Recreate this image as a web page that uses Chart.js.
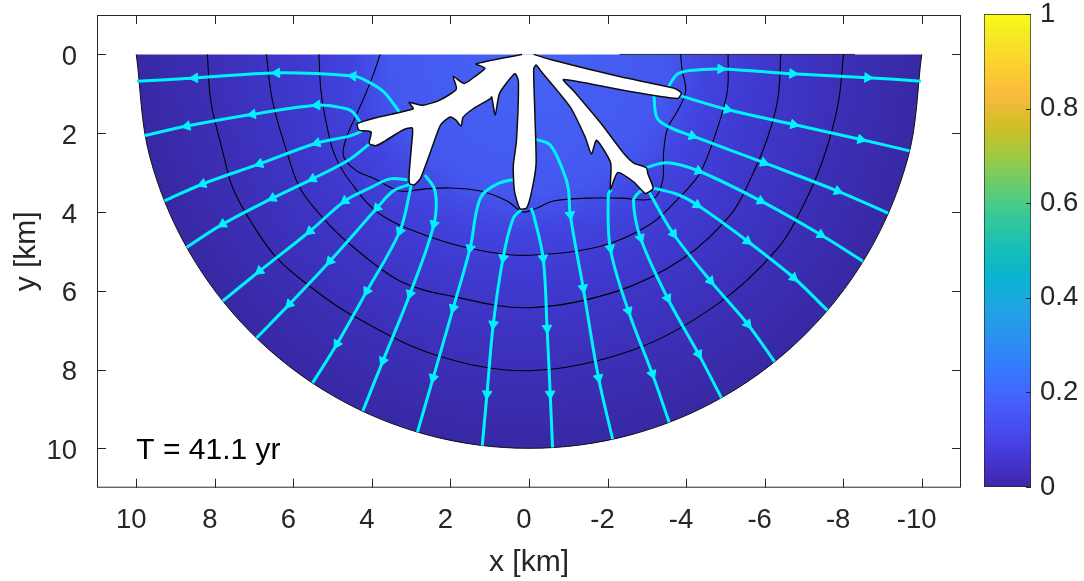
<!DOCTYPE html>
<html><head><meta charset="utf-8">
<script src="https://cdn.jsdelivr.net/npm/chart.js@4.4.1/dist/chart.umd.min.js"></script>
<style>
html,body{margin:0;padding:0;background:#fff;width:1084px;height:581px;overflow:hidden}
#main{position:absolute;left:0;top:0;width:1084px;height:581px}
#cbar{position:absolute;left:960px;top:0;width:124px;height:581px}
</style></head><body>
<div id="main"><canvas id="c1"></canvas></div>
<div id="cbar"><canvas id="c2"></canvas></div>
<script>
// ---------- data (km) ----------
const xTicks = [-10,-8,-6,-4,-2,0,2,4,6,8,10];
const yTicks = [0,2,4,6,8,10];
const cbTicks = [0,0.2,0.4,0.6,0.8,1];
const cbRange = [0,1];
const timeLabel = 'T = 41.1 yr';
const timeLabelAt = [10, 10.05];

const domainEdge = [[10,0],[9.659,2.588],[8.660,5.000],[7.071,7.071],[5.000,8.660],[2.588,9.659],[0,10],[-2.588,9.659],[-5.000,8.660],[-7.071,7.071],[-8.660,5.000],[-9.659,2.588],[-10,0]];
const topEdgeDark = [[-2.3,0],[-8.3,0]];

const contour1 = [[8.19,0.00],[8.10,1.20],[7.80,2.46],[7.54,3.40],[7.05,4.30],[6.42,5.17],[5.50,5.95],[4.56,6.59],[2.44,7.61],[0.00,8.03],[-2.66,7.50],[-4.80,6.34],[-6.34,4.92],[-7.00,3.80],[-7.50,2.63],[-7.87,1.26],[-8.01,0.00]];
const contour2 = [[6.69,0.00],[6.53,1.19],[6.17,2.46],[5.83,3.40],[5.25,4.15],[4.56,4.82],[3.29,5.75],[2.01,6.13],[0.00,6.43],[-2.25,6.01],[-3.94,5.17],[-5.14,4.06],[-5.65,3.14],[-6.07,2.13],[-6.34,1.11],[-6.41,0.00]];
const contour3 = [[5.35,0.00],[5.30,0.90],[5.15,1.80],[4.95,2.55],[4.56,3.22],[3.80,4.05],[2.44,4.66],[1.17,4.99],[0.00,5.10],[-1.82,4.87],[-3.09,4.31],[-3.86,3.60],[-4.36,3.00],[-4.80,1.87],[-5.05,0.93],[-5.07,0.00]];
const contour4 = [[3.79,0.00],[3.96,0.50],[4.21,1.12],[4.45,1.65],[4.68,2.20],[4.72,2.60],[4.40,2.95],[3.97,3.14],[3.29,3.47],[2.70,3.42],[2.01,3.39],[1.24,3.47],[0.56,3.72],[0.15,4.00],[-0.21,3.90],[-0.62,3.72],[-1.49,3.65],[-2.33,3.65],[-3.17,3.66],[-3.40,3.22],[-3.43,2.45],[-3.53,1.87],[-3.78,1.44],[-3.99,0.93],[-3.90,0.40],[-3.86,0.00]];

const fracture = [[0.18,0.00],[1.35,0.24],[1.12,0.35],[1.40,0.58],[1.65,0.74],[1.93,0.56],[1.85,0.88],[2.27,1.16],[2.70,1.29],[3.05,1.22],[2.95,1.38],[3.87,1.60],[4.37,1.76],[4.33,1.92],[4.02,1.97],[4.07,2.26],[3.90,2.32],[3.67,2.20],[3.21,1.92],[2.97,1.87],[2.99,2.30],[3.05,3.01],[3.04,3.28],[2.92,3.31],[2.76,3.14],[2.50,2.45],[2.25,1.79],[2.01,1.59],[1.86,1.67],[1.73,1.82],[1.68,1.60],[1.42,1.38],[0.99,1.13],[0.95,1.08],[0.86,1.54],[0.75,0.99],[0.36,0.49],[0.27,0.68],[0.32,2.20],[0.40,2.83],[0.37,3.47],[0.23,3.92],[0.06,3.90],[-0.07,3.47],[-0.18,2.78],[-0.15,1.52],[-0.12,0.37],[-0.18,0.27],[-0.30,0.42],[-1.05,1.34],[-1.43,2.10],[-1.59,2.53],[-1.72,2.18],[-2.08,2.76],[-2.07,3.43],[-2.26,3.00],[-2.67,3.24],[-2.96,3.53],[-3.16,3.40],[-3.03,3.04],[-2.99,2.88],[-2.67,2.76],[-2.41,2.51],[-1.83,1.75],[-1.14,0.93],[-0.88,0.64],[-2.33,0.90],[-3.78,1.12],[-3.88,0.98],[-3.70,0.86],[-2.33,0.57],[-0.62,0.15],[-0.12,0.00]];

const sL1 = [[3.25,1.55],[3.41,1.31],[3.72,0.93],[4.18,0.65],[4.48,0.55],[6.42,0.47],[8.51,0.60],[9.98,0.68]];
const sL2 = [[4.30,1.72],[4.50,1.45],[4.74,1.36],[5.40,1.29],[7.04,1.52],[8.71,1.82],[9.79,2.06]];
const sL3 = [[4.25,1.95],[4.60,2.08],[5.40,2.25],[6.86,2.78],[8.31,3.29],[9.28,3.72]];
const sL4 = [[4.00,2.22],[4.56,2.66],[5.51,3.16],[6.53,3.65],[7.80,4.31],[8.72,4.90]];
const sL5 = [[3.10,3.18],[3.54,3.16],[4.05,3.39],[4.69,3.72],[5.58,4.49],[6.86,5.50],[7.80,6.26]];
const sL6 = [[3.05,3.30],[3.46,3.47],[3.87,3.90],[5.07,5.25],[6.10,6.34],[6.94,7.20]];
const sL7 = [[3.00,3.30],[3.03,3.47],[3.29,4.49],[4.13,6.01],[4.89,7.35],[5.51,8.34]];
const sL8 = [[2.65,3.06],[2.39,3.47],[2.42,4.31],[3.03,6.08],[3.72,7.78],[4.23,9.05]];
const sL9 = [[0.30,3.16],[0.81,3.29],[1.24,3.65],[1.50,4.92],[1.93,6.44],[2.44,8.21],[2.84,9.59]];
const sL10 = [[0.15,3.90],[0.40,4.16],[0.66,5.17],[0.91,6.85],[1.07,8.62],[1.19,9.93]];
const sR10 = [[-0.05,3.90],[-0.11,4.05],[-0.36,5.17],[-0.46,6.95],[-0.54,8.62],[-0.60,9.98]];
const sR9 = [[-0.16,2.15],[-0.54,2.30],[-0.87,2.96],[-1.00,3.40],[-1.05,4.07],[-1.38,5.93],[-1.77,8.21],[-2.13,9.77]];
const sR8 = [[-2.10,3.42],[-2.02,3.55],[-2.07,4.92],[-2.53,6.51],[-3.14,8.11],[-3.57,9.34]];
const sR7 = [[-2.96,3.45],[-2.80,3.50],[-2.66,3.72],[-2.84,4.66],[-3.53,6.19],[-4.32,7.61],[-4.90,8.72]];
const sR6 = [[-3.01,3.39],[-3.09,3.55],[-3.68,4.56],[-4.62,5.75],[-5.57,6.85],[-6.25,7.80]];
const sR5 = [[-3.10,3.38],[-3.77,3.55],[-4.28,3.82],[-5.56,4.74],[-6.74,5.67],[-7.60,6.50]];
const sR4 = [[-2.95,2.88],[-3.52,2.75],[-4.32,2.96],[-5.90,3.72],[-7.43,4.58],[-8.50,5.25]];
const sR3 = [[-3.18,1.02],[-3.26,1.61],[-3.60,1.86],[-4.16,2.07],[-5.98,2.75],[-7.86,3.47],[-9.14,4.03]];
const sR2 = [[-3.82,1.04],[-5.05,1.40],[-6.74,1.78],[-8.45,2.16],[-9.69,2.45]];
const sR1 = [[-3.50,0.92],[-3.61,0.72],[-3.78,0.50],[-4.10,0.41],[-4.88,0.37],[-6.71,0.49],[-8.62,0.59],[-9.98,0.68]];

const streamSet = [sL1,sL2,sL3,sL4,sL5,sL6,sL7,sL8,sL9,sL10,sR10,sR9,sR8,sR7,sR6,sR5,sR4,sR3,sR2,sR1];
const arrowIdx  = [[4,5,6],[3,4,5],[2,3,4],[2,3,4],[3,4,5],[2,3,4],[2,3,4],[2,3,4],[3,4,5],[2,3,4],[2,3,4],[4,5,6],[2,3,4],[3,4,5],[2,3,4],[2,3,4],[2,3,4],[3,4,5],[1,2,3],[4,5,6]];
const contourSet = [contour1,contour2,contour3,contour4];

// ---------- styles ----------
const CYAN = '#00f2ff';
const AXIS = '#262626';
const FONT = "'Liberation Sans', Arial, Helvetica, sans-serif";
Chart.defaults.font.family = FONT;
Chart.defaults.color = AXIS;

const fieldStops = [[0,'rgb(70,100,245)'],[0.35,'rgb(68,88,239)'],[0.45,'rgb(65,68,223)'],[0.58,'rgb(63,57,207)'],[0.73,'rgb(61,50,190)'],[0.9,'rgb(58,44,173)'],[1,'rgb(55,40,163)']];
const parula = [[0,[0.2422,0.1504,0.6603]],[4,[0.2706,0.2147,0.8364]],[8,[0.2813,0.3006,0.9414]],[12,[0.2699,0.3892,0.9906]],[16,[0.1963,0.4847,0.9892]],[20,[0.1687,0.5703,0.9359]],[24,[0.1248,0.6459,0.8883]],[28,[0.0297,0.7082,0.8163]],[32,[0.0964,0.7500,0.7120]],[36,[0.2161,0.7843,0.5923]],[40,[0.3909,0.8029,0.4354]],[44,[0.6174,0.7876,0.2612]],[48,[0.8203,0.7498,0.1535]],[52,[0.9728,0.7298,0.2394]],[56,[0.9892,0.8136,0.1885]],[60,[0.9597,0.9135,0.1423]],[63,[0.9769,0.9839,0.0805]]];

const toXY = arr => arr.map(p => ({x:p[0], y:p[1]}));
const noPad = s => { s.paddingTop = 0; s.paddingBottom = 0; s.paddingLeft = 0; s.paddingRight = 0; };

function arrowRotation(c) {
  const d = c.dataset.data, i = c.dataIndex, ch = c.chart;
  const xs = ch.scales.x, ys = ch.scales.y;
  if (!xs || !ys) return 0;
  const a = d[Math.max(i-1,0)], b = d[Math.min(i+1,d.length-1)];
  const dx = xs.getPixelForValue(b.x) - xs.getPixelForValue(a.x);
  const dy = ys.getPixelForValue(b.y) - ys.getPixelForValue(a.y);
  return Math.atan2(dy, dx) * 180 / Math.PI + 90;
}

function domainFill(c) {
  const ch = c.chart;
  if (!ch.chartArea) return fieldStops[fieldStops.length-1][1];
  const xs = ch.scales.x, ys = ch.scales.y;
  const cx = xs.getPixelForValue(0), cy = ys.getPixelForValue(0);
  const R = Math.abs(ys.getPixelForValue(10) - cy);
  const g = ch.ctx.createRadialGradient(cx, cy, 0, cx, cy, R);
  fieldStops.forEach(s => g.addColorStop(s[0], s[1]));
  return g;
}

const datasets = [];
datasets.push({data: toXY(fracture), showLine:true, borderColor:'#0d0d0d', borderWidth:1.5, backgroundColor:'#ffffff', fill:'shape', tension:0.2, pointRadius:0, order:0});
streamSet.forEach((s,k) => datasets.push({
  data: toXY(s), showLine:true, borderColor:CYAN, borderWidth:3, tension:0.35, fill:false, order:1,
  pointStyle:'triangle', pointRadius: c => arrowIdx[k].includes(c.dataIndex) ? 5.5 : 0,
  pointRotation: arrowRotation, pointBackgroundColor:CYAN, pointBorderColor:CYAN, pointBorderWidth:1
}));
contourSet.forEach(c => datasets.push({data: toXY(c), showLine:true, borderColor:'#000', borderWidth:1.1, tension:0.35, fill:false, pointRadius:0, order:2}));
datasets.push({data: toXY(topEdgeDark), showLine:true, borderColor:'rgba(0,0,0,0.75)', borderWidth:1, fill:false, pointRadius:0, order:2});
datasets.push({data: toXY(domainEdge), showLine:true, borderColor:'#111', borderWidth:1, backgroundColor: domainFill, fill:'shape', tension:0.34, pointRadius:0, order:3});

const frame = {
  id:'frame',
  afterDraw(chart) {
    const {ctx, chartArea:a, scales:{x, y}} = chart;
    ctx.save();
    ctx.strokeStyle = AXIS; ctx.lineWidth = 1;
    ctx.strokeRect(a.left + 0.5, a.top + 0.5, a.right - a.left - 1, a.bottom - a.top - 1);
    const TL = 9;
    ctx.beginPath();
    xTicks.forEach(v => { const p = Math.round(x.getPixelForValue(v)) + 0.5;
      ctx.moveTo(p, a.bottom); ctx.lineTo(p, a.bottom - TL); ctx.moveTo(p, a.top); ctx.lineTo(p, a.top + TL); });
    yTicks.forEach(v => { const p = Math.round(y.getPixelForValue(v)) + 0.5;
      ctx.moveTo(a.left, p); ctx.lineTo(a.left + TL, p); ctx.moveTo(a.right, p); ctx.lineTo(a.right - TL, p); });
    ctx.stroke();
    ctx.fillStyle = '#000'; ctx.font = '30px ' + FONT; ctx.textBaseline = 'middle'; ctx.textAlign = 'left';
    ctx.fillText(timeLabel, x.getPixelForValue(timeLabelAt[0]), y.getPixelForValue(timeLabelAt[1]));
    ctx.restore();
  }
};

new Chart(document.getElementById('c1'), {
  type:'scatter',
  data:{datasets},
  options:{
    responsive:true, maintainAspectRatio:false, animation:false, events:[],
    layout:{padding:{top:15, right:123, bottom:0, left:0}},
    plugins:{legend:{display:false}, tooltip:{enabled:false}},
    scales:{
      x:{type:'linear', min:-11, max:11, reverse:true,
         afterBuildTicks: s => { s.ticks = xTicks.map(v => ({value:v})); },
         afterFit: s => { s.height = 93.3; noPad(s); },
         grid:{display:false, drawTicks:false}, border:{display:false},
         ticks:{padding:16, color:AXIS, font:{size:27.5}, maxRotation:0, autoSkip:false, labelOffset:-5, callback: v => String(v)},
         title:{display:true, text:'x [km]', color:AXIS, font:{size:30}, padding:{top:0, bottom:0}}},
      y:{type:'linear', min:-1, max:11, reverse:true,
         afterBuildTicks: s => { s.ticks = yTicks.map(v => ({value:v})); },
         afterFit: s => { s.width = 97; noPad(s); },
         grid:{display:false, drawTicks:false}, border:{display:false},
         ticks:{padding:20, color:AXIS, font:{size:27.5}, labelOffset:3, callback: v => String(v)},
         title:{display:true, text:'y [km]', color:AXIS, font:{size:30}, padding:{top:9, bottom:0}}}
    }
  },
  plugins:[frame]
});

// ---------- colorbar ----------
function parulaFill(c) {
  const ch = c.chart, a = ch.chartArea;
  if (!a) return 'rgb(62,38,168)';
  const g = ch.ctx.createLinearGradient(0, a.bottom, 0, a.top);
  parula.forEach(s => g.addColorStop(s[0]/63, 'rgb(' + s[1].map(v => Math.round(v*255)).join(',') + ')'));
  return g;
}
const cbTickMarks = {
  id:'cbTickMarks',
  afterDraw(chart) {
    const {ctx, chartArea:a, scales:{y}} = chart;
    ctx.save(); ctx.strokeStyle = AXIS; ctx.lineWidth = 1; ctx.beginPath();
    cbTicks.forEach(v => { const p = Math.round(y.getPixelForValue(v)) + 0.5; ctx.moveTo(a.right, p); ctx.lineTo(a.right - 5, p); });
    ctx.stroke(); ctx.restore();
  }
};
new Chart(document.getElementById('c2'), {
  type:'bar',
  data:{labels:['c'], datasets:[{data:[cbRange[1]], backgroundColor: parulaFill, borderColor:AXIS, borderWidth:1, borderSkipped:false, barPercentage:1, categoryPercentage:1}]},
  options:{
    responsive:true, maintainAspectRatio:false, animation:false, events:[],
    layout:{padding:{top:14, bottom:94, left:24, right:0}},
    plugins:{legend:{display:false}, tooltip:{enabled:false}},
    scales:{
      x:{display:false},
      y:{position:'right', min:cbRange[0], max:cbRange[1],
         afterBuildTicks: s => { s.ticks = cbTicks.map(v => ({value:v})); },
         afterFit: s => { s.width = 53; noPad(s); },
         grid:{display:false, drawTicks:false}, border:{display:false},
         ticks:{padding:9, color:AXIS, font:{size:27.5}, callback: v => String(v)}}
    }
  },
  plugins:[cbTickMarks]
});
</script>
</body></html>
